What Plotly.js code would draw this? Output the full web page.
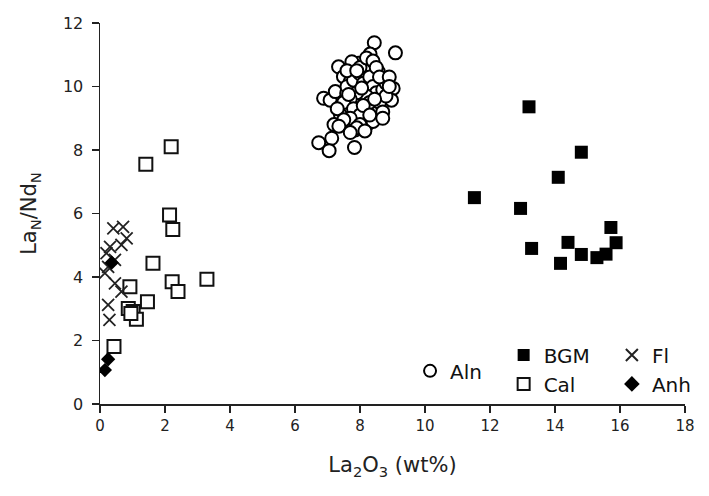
<!DOCTYPE html>
<html><head><meta charset="utf-8">
<script src="https://cdn.plot.ly/plotly-3.0.1.min.js"></script>
<style>html,body{margin:0;padding:0;background:#fff}#plot{width:709px;height:496px}</style>
</head><body><div id="plot"></div>
<script>
// Aln (allanite)
const alnX = [8.44,9.09,8.31,8.21,7.34,8.56,7.95,7.75,7.49,7.70,8.16,8.66,9.02,8.97,6.88,7.08,7.24,7.59,8.61,7.44,7.59,7.95,8.26,8.56,7.90,7.54,7.85,8.21,8.51,6.73,7.13,7.05,7.83,
  7.6,7.8,8.0,8.1,8.3,8.4,8.5,8.7,8.8,8.2,7.9,7.7,7.5,7.8,8.0,8.3,8.6,8.8,8.1,7.4,7.7,8.0,8.4,8.0,8.2,8.4,8.5,7.6,7.9,8.6,8.9,7.3,7.5,8.3,8.7,7.65,8.05,8.45,8.9,8.7,7.2,7.35,7.9,8.15,7.7];
const alnY = [11.38,11.06,11.02,10.68,10.62,10.47,10.73,10.78,10.31,10.15,9.94,10.15,9.94,9.57,9.63,9.57,9.84,9.79,9.68,9.42,9.26,9.52,9.26,9.26,8.94,8.79,8.63,8.79,9.00,8.23,8.37,7.98,8.08,
  10.0,10.2,10.4,10.1,10.3,10.0,9.8,9.9,10.1,9.7,9.8,9.6,9.5,9.3,9.1,9.5,9.5,9.7,9.4,9.1,9.0,8.8,8.9,10.6,10.9,10.8,10.6,10.5,10.5,10.3,10.3,9.3,8.95,9.1,9.2,9.75,9.95,9.6,10.0,9.0,8.8,8.75,8.7,8.6,8.55];
// BGM
const bgmX = [13.20,14.81,14.10,11.52,12.94,15.72,14.40,15.88,13.28,15.57,14.81,15.29,14.17];
const bgmY = [9.36,7.93,7.14,6.50,6.16,5.56,5.09,5.08,4.90,4.72,4.71,4.61,4.43];
// Cal
const calX = [2.19,1.41,2.14,2.24,1.63,2.22,2.40,3.29,1.46,0.92,0.87,1.02,1.12,0.43,0.95];
const calY = [8.10,7.55,5.95,5.50,4.43,3.85,3.54,3.93,3.22,3.69,3.01,2.91,2.67,1.81,2.85];
// Fl
const flX = [0.41,0.71,0.82,0.66,0.31,0.20,0.46,0.25,0.15,0.46,0.66,0.25,0.29];
const flY = [5.53,5.58,5.22,5.01,4.95,4.75,4.54,4.32,4.12,3.80,3.54,3.12,2.65];
// Anh
const anhX = [0.36,0.25,0.15];
const anhY = [4.45,1.41,1.07];

const xTicks = [0,2,4,6,8,10,12,14,16,18];
const yTicks = [0,2,4,6,8,10,12];

const lf = {family:'DejaVu Sans', size:20, color:'#111'};
const traces = [
  {name:'Aln', x:alnX, y:alnY, mode:'markers', type:'scatter', legend:'legend',
   marker:{symbol:'circle', size:13, color:'#fff', line:{color:'#000', width:2}}},
  {name:'BGM', x:bgmX, y:bgmY, mode:'markers', type:'scatter', legend:'legend2',
   marker:{symbol:'square', size:13, color:'#000', line:{color:'#000', width:0}}},
  {name:'Cal', x:calX, y:calY, mode:'markers', type:'scatter', legend:'legend2',
   marker:{symbol:'square', size:13, color:'#fff', line:{color:'#111', width:2}}},
  {name:'Fl', x:flX, y:flY, mode:'markers', type:'scatter', legend:'legend3',
   marker:{symbol:'x-thin-open', size:12, color:'#222', line:{color:'#222', width:1.8}}},
  {name:'Anh', x:anhX, y:anhY, mode:'markers', type:'scatter', legend:'legend3',
   marker:{symbol:'diamond', size:11, color:'#000', line:{color:'#000', width:0}}}
];
const legBase = {font:lf, bgcolor:'rgba(0,0,0,0)', borderwidth:0, itemsizing:'constant', tracegroupgap:0, itemclick:false};
const layout = {
  width:709, height:496,
  margin:{l:100, r:20, t:23, b:92},
  paper_bgcolor:'#fff', plot_bgcolor:'#fff',
  font:{family:'DejaVu Sans', color:'#222'},
  showlegend:true,
  legend: Object.assign({x:0.53, y:0.087, xanchor:'left', yanchor:'middle'}, legBase),
  legend2: Object.assign({x:0.69, y:0.18, xanchor:'left', yanchor:'top', traceorder:'normal'}, legBase),
  legend3: Object.assign({x:0.875, y:0.18, xanchor:'left', yanchor:'top', traceorder:'normal'}, legBase),
  xaxis:{range:[0,18], tickvals:xTicks, ticks:'outside', ticklen:7, tickwidth:1.5, tickcolor:'#222',
    showline:true, linecolor:'#222', linewidth:1.5, showgrid:false, zeroline:false,
    tickfont:{family:'DejaVu Sans', size:15, color:'#222'},
    title:{text:'La<sub>2</sub>O<sub>3</sub> (wt%)', font:{family:'DejaVu Sans', size:21, color:'#222'}, standoff:24}},
  yaxis:{range:[0,12], tickvals:yTicks, ticks:'outside', ticklen:7, tickwidth:1.5, tickcolor:'#222',
    showline:true, linecolor:'#222', linewidth:1.5, showgrid:false, zeroline:false, ticklabelstandoff:5,
    tickfont:{family:'DejaVu Sans', size:16, color:'#222'},
    title:{text:'La<sub>N</sub>/Nd<sub>N</sub>', font:{family:'DejaVu Sans', size:21, color:'#222'}, standoff:20}}
};
Plotly.newPlot('plot', traces, layout, {displayModeBar:false, staticPlot:true});
</script></body></html>
